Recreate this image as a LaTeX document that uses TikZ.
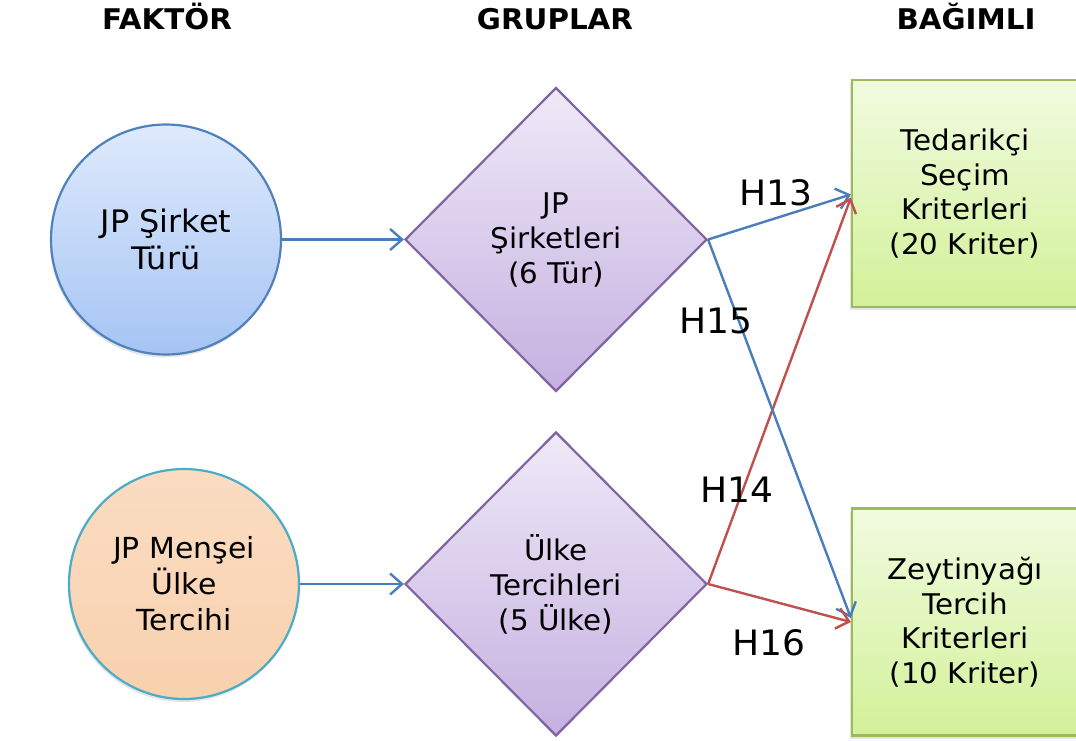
\documentclass[tikz,border=0pt]{standalone}
\usepackage{fontspec}
\setmainfont{DejaVu Sans}[FakeStretch=1.03]
\usetikzlibrary{shapes.geometric,arrows.meta,shadows}

\definecolor{factorAline}{HTML}{4F81BD}
\definecolor{factorAtop}{HTML}{DFEAFC}
\definecolor{factorAbot}{HTML}{A5C4F4}
\definecolor{factorBline}{HTML}{4BACC6}
\definecolor{factorBtop}{HTML}{FBDCC2}
\definecolor{factorBbot}{HTML}{F8D1AE}
\definecolor{groupline}{HTML}{8064A2}
\definecolor{grouptop}{HTML}{EFE9F8}
\definecolor{groupbot}{HTML}{C5B0E0}
\definecolor{depline}{HTML}{9BBB59}
\definecolor{deptop}{HTML}{F1FBDF}
\definecolor{depbot}{HTML}{D2F199}
\definecolor{linkblue}{HTML}{4A7EBB}
\definecolor{linkred}{HTML}{C0504D}

\tikzset{
  txt/.style={font=\fontsize{28.5}{34.5}\selectfont, text=black, align=center},
  header/.style={font=\bfseries\fontsize{28.5}{32}\selectfont, anchor=base},
  hyp/.style={font=\fontsize{35}{40}\selectfont, anchor=base},
  factor/.style={circle, txt, minimum size=230pt, inner sep=0pt, line width=2.2pt,
    drop shadow={shadow xshift=-1pt, shadow yshift=-3pt, opacity=0.2}},
  group/.style={diamond, txt, font=\fontsize{28.5}{35}\selectfont,
    minimum width=302pt, minimum height=304pt, inner sep=0pt,
    draw=groupline, line width=2.2pt, top color=grouptop, bottom color=groupbot},
  depbox/.style={rectangle, txt, minimum width=226pt, minimum height=227pt, inner sep=0pt,
    draw=depline, line width=2.2pt, top color=deptop, bottom color=depbot,
    drop shadow={shadow xshift=-2pt, shadow yshift=-3pt, opacity=0.2}},
  link/.style={line width=2.4pt, -{Straight Barb[length=12pt,width=21pt,line width=2.4pt]}},
}

\begin{document}
\begin{tikzpicture}[x=1pt,y=-1pt]
\useasboundingbox[fill=white] (0,0) rectangle (1076,740);

% column headings
\node[header] (hF) at (167,29) {FAKTÖR};
\node[header] (hG) at (555,29) {GRUPLAR};
\node[header] (hB) at (966,29) {BAĞIMLI};

% factors
\node[factor, font=\fontsize{31}{37}\selectfont, draw=factorAline,
  top color=factorAtop, bottom color=factorAbot]
  (f1) at (166,239.5) {JP Şirket\\Türü};
\node[factor, font=\fontsize{29}{36}\selectfont, draw=factorBline,
  top color=factorBtop, bottom color=factorBbot]
  (f2) at (184,584) {JP Menşei\\Ülke\\Tercihi};

% groups
\node[group] (g1) at (556,239.5) {JP\\Şirketleri\\(6 Tür)};
\node[group] (g2) at (556,584) {Ülke\\Tercihleri\\(5 Ülke)};

% dependent variables
\node[depbox] (d1) at (965,193.5) {Tedarikçi\\Seçim\\Kriterleri\\(20 Kriter)};
\node[depbox] (d2) at (965,622) {Zeytinyağı\\Tercih\\Kriterleri\\(10 Kriter)};

% factor -> group
\draw[link, linkblue] (f1.east) -- (g1.west);
\draw[link, linkblue] (f2.east) -- (g2.west);

% hypotheses
\draw[link, linkblue] (g1.east) -- ([yshift=-1pt]d1.west);
\draw[link, linkred]  (g2.east) -- ([yshift=-4pt]d1.west);
\draw[link, linkblue] (g1.east) -- ([yshift=4pt]d2.west);
\draw[link, linkred]  (g2.east) -- (d2.west);

\node[hyp] (h13) at (776,205) {H13};
\node[hyp] (h15) at (716,333) {H15};
\node[hyp] (h14) at (737,502) {H14};
\node[hyp] (h16) at (769,655) {H16};
\end{tikzpicture}
\end{document}
